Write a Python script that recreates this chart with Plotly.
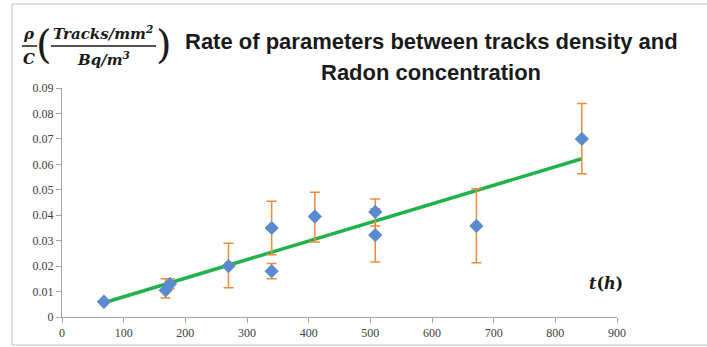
import numpy as np
import plotly.graph_objects as go

# Data
t_hours = [68, 168, 175, 270, 340, 340, 410, 508, 508, 672, 843]
rate = [0.0060, 0.0105, 0.0130, 0.0200, 0.0180, 0.0350, 0.0395, 0.0413, 0.0322, 0.0358, 0.0700]
err_plus = [0.0000, 0.0045, 0.0020, 0.0090, 0.0030, 0.0105, 0.0095, 0.0051, 0.0103, 0.0146, 0.0139]
err_minus = [0.0000, 0.0030, 0.0020, 0.0085, 0.0030, 0.0105, 0.0100, 0.0055, 0.0106, 0.0145, 0.0137]
x_ticks = [0, 100, 200, 300, 400, 500, 600, 700, 800, 900]
y_ticks = [0, 0.01, 0.02, 0.03, 0.04, 0.05, 0.06, 0.07, 0.08, 0.09]
y_tick_labels = ["0", "0.01", "0.02", "0.03", "0.04", "0.05", "0.06", "0.07", "0.08", "0.09"]

W, H = 707, 347
L, R, T, B = 62, 617, 88, 317


def px(x):
    return (x - L) / (R - L)


def py(y):
    return (B - y) / (B - T)


# Linear trend line (least squares)
slope, intercept = np.polyfit(t_hours, rate, 1)
trend_x = [min(t_hours), max(t_hours)]
trend_y = [slope * v + intercept for v in trend_x]

fig = go.Figure()
fig.add_trace(go.Scatter(
    x=trend_x, y=trend_y, mode="lines",
    line=dict(color="#21B24B", width=3.5), hoverinfo="skip", showlegend=False))
fig.add_trace(go.Scatter(
    x=t_hours, y=rate, mode="markers",
    marker=dict(symbol="diamond", size=11, color="#5B8BCF"),
    error_y=dict(type="data", symmetric=False, array=err_plus, arrayminus=err_minus,
                 color="#F08A3C", thickness=1.5, width=5),
    showlegend=False))

serif = "Liberation Serif"
axis_common = dict(showgrid=False, zeroline=False, showline=True, linecolor="#A6A6A6",
                   linewidth=1, ticks="outside", tickcolor="#A6A6A6", ticklen=5,
                   automargin=False,
                   tickfont=dict(family=serif, size=12, color="#404040"))
fig.update_xaxes(range=[0, 900], tickvals=x_ticks, **axis_common)
fig.update_yaxes(range=[0, 0.09], tickvals=y_ticks, ticktext=y_tick_labels, **axis_common)


def note(x, y, text, font):
    return dict(x=px(x), y=py(y), xref="paper", yref="paper", showarrow=False,
                xanchor="center", yanchor="middle", text=text, font=font)


ann = []
title_font = dict(family="Liberation Sans", size=22, color="#1a1a1a")
ann.append(note(431, 42, "<b>Rate of parameters between tracks density and</b>", title_font))
ann.append(note(431, 73, "<b>Radon concentration</b>", title_font))
mfont = dict(family="DejaVu Serif", size=15, color="#1a1a1a")
ann.append(note(29, 34, "<b><i>ρ</i></b>", mfont))
ann.append(note(29, 59, "<b><i>C</i></b>", mfont))
ann.append(note(103, 33, "<b><i>Tracks/mm<sup>2</sup></i></b>", mfont))
ann.append(note(103, 59, "<b><i>Bq/m<sup>3</sup></i></b>", mfont))
pfont = dict(family="DejaVu Serif", size=40, color="#1a1a1a")
ann.append(note(44, 44, "(", pfont))
ann.append(note(164, 44, ")", pfont))
ann.append(note(606, 283, "<b><i>t</i>(<i>h</i>)</b>", dict(family="DejaVu Serif", size=16, color="#1a1a1a")))
fig.update_layout(annotations=ann)

shapes = [
    dict(type="line", xref="paper", yref="paper", x0=px(22), x1=px(37), y0=py(46), y1=py(46),
         line=dict(color="#1a1a1a", width=1.5)),
    dict(type="line", xref="paper", yref="paper", x0=px(51), x1=px(156), y0=py(46), y1=py(46),
         line=dict(color="#1a1a1a", width=1.5)),
    dict(type="rect", xref="paper", yref="paper", x0=px(12), x1=px(720), y0=py(4), y1=py(345),
         line=dict(color="#BFBFBF", width=1), fillcolor="rgba(0,0,0,0)", layer="below"),
]
fig.update_layout(shapes=shapes)

fig.update_layout(width=W, height=H, margin=dict(l=L, r=W - R, t=T, b=H - B),
                  paper_bgcolor="white", plot_bgcolor="white")
fig.write_html("out.html")
